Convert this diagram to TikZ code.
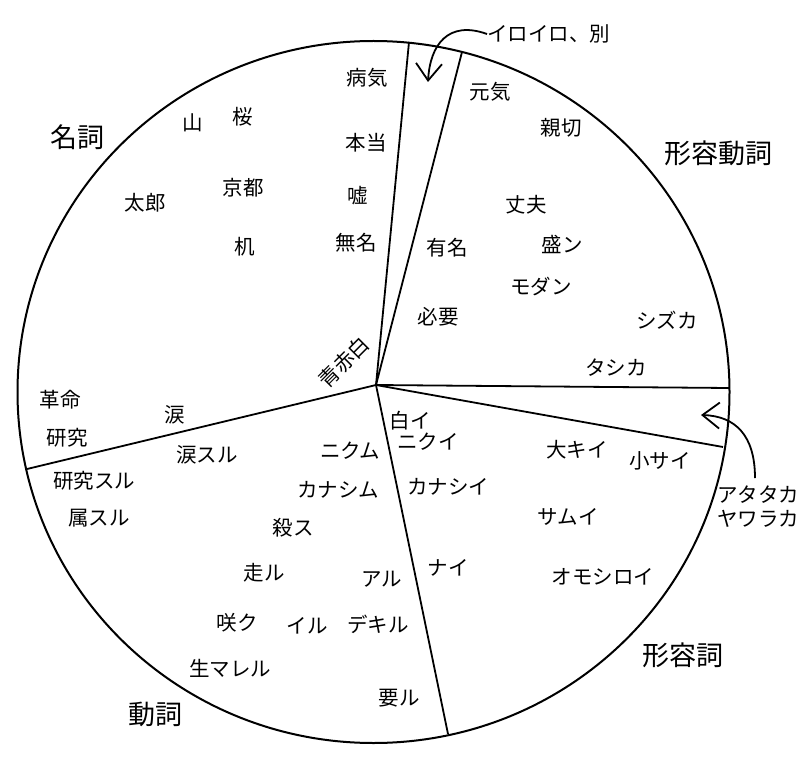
\documentclass[tikz,border=0pt]{standalone}
\usepackage{fontspec}
\setmainfont{Noto Sans CJK JP}
\usetikzlibrary{arrows.meta}

\begin{document}
\begin{tikzpicture}[x=1pt,y=-1pt,
    word/.style={font=\fontsize{20.5}{24}\selectfont,inner sep=0pt},
    part/.style={font=\fontsize{27}{30}\selectfont,inner sep=0pt},
    cut/.style={line width=1.8pt},
    >={Straight Barb[length=17pt,width=26pt]}]
    \useasboundingbox (0,0) rectangle (800,767);
    % pie and its cuts
    \coordinate (hub) at (376,385);
    \draw[line width=2pt] (373.5,392) ellipse [x radius=356pt,y radius=351pt];
    \draw[cut] (hub)--(409,42);
    \draw[cut] (hub)--(462,52);
    \draw[cut] (hub)--(729,388);
    \draw[cut] (hub)--(723,447);
    \draw[cut] (hub)--(448,734);
    \draw[cut] (hub)--(27,469);
    % parts of speech
    \node[part] (meishi) at (77,137) {名詞};
    \node[part] (keiyodoshi) at (718,153) {形容動詞};
    \node[part] (keiyoshi) at (683,655) {形容詞};
    \node[part] (doshi) at (155,714) {動詞};
    % nouns
    \node[word] (yama) at (193,123) {山};
    \node[word] (sakura) at (243,117) {桜};
    \node[word] (byoki) at (367,78) {病気};
    \node[word] (honto) at (366,143) {本当};
    \node[word] (taro) at (145,203) {太郎};
    \node[word] (kyoto) at (243,188) {京都};
    \node[word] (uso) at (358,196) {嘘};
    \node[word] (tsukue) at (245,247) {机};
    \node[word] (mumei) at (356,243) {無名};
    \node[word,rotate=45] (aoakashiro) at (344,362) {青赤白};
    \node[word] (kakumei) at (60,400) {革命};
    \node[word] (namida) at (175,415) {涙};
    \node[word] (kenkyu) at (67,438) {研究};
    % adjectival nouns
    \node[word] (genki) at (490,92) {元気};
    \node[word] (shinsetsu) at (561,128) {親切};
    \node[word] (jobu) at (526,205) {丈夫};
    \node[word] (yumei) at (447,248) {有名};
    \node[word] (sakan) at (562,244) {盛ン};
    \node[word] (modan) at (541,287) {モダン};
    \node[word] (hitsuyo) at (438,317) {必要};
    \node[word] (shizuka) at (667,320) {シズカ};
    \node[word] (tashika) at (616,368) {タシカ};
    % verbs
    \node[word] (kenkyusuru) at (94,481) {研究スル};
    \node[word] (namidasuru) at (207,455) {涙スル};
    \node[word] (zokusuru) at (99,518) {属スル};
    \node[word] (nikumu) at (350,451) {ニクム};
    \node[word] (kanashimu) at (338,490) {カナシム};
    \node[word] (korosu) at (293,528) {殺ス};
    \node[word] (hashiru) at (264,573) {走ル};
    \node[word] (aru) at (382,579) {アル};
    \node[word] (saku) at (237,623) {咲ク};
    \node[word] (iru) at (307,626) {イル};
    \node[word] (dekiru) at (378,624) {デキル};
    \node[word] (umareru) at (230,668) {生マレル};
    \node[word] (iru2) at (399,698) {要ル};
    % adjectives
    \node[word] (shiroi) at (410,421) {白イ};
    \node[word] (nikui) at (428,442) {ニクイ};
    \node[word] (kanashii) at (448,487) {カナシイ};
    \node[word] (nai) at (448,568) {ナイ};
    \node[word] (okii) at (577,450) {大キイ};
    \node[word] (chiisai) at (660,461) {小サイ};
    \node[word] (samui) at (568,517) {サムイ};
    \node[word] (omoshiroi) at (603,577) {オモシロイ};
    % words that sit between
    \node[word,anchor=west] (iroiro) at (487,34) {イロイロ、別};
    \node[word,anchor=west,align=left] (atataka) at (717,507) {アタタカ\\ヤワラカ};
    \coordinate (gap1) at (428,82);
    \coordinate (gap2) at (701,415);
    \draw[cut,->] (iroiro.west) .. controls (448,20) and (430,45) .. (gap1);
    \draw[cut,->] (atataka.north west)+(38,-8) .. controls (755,435) and (735,416) .. (gap2);
\end{tikzpicture}
\end{document}
